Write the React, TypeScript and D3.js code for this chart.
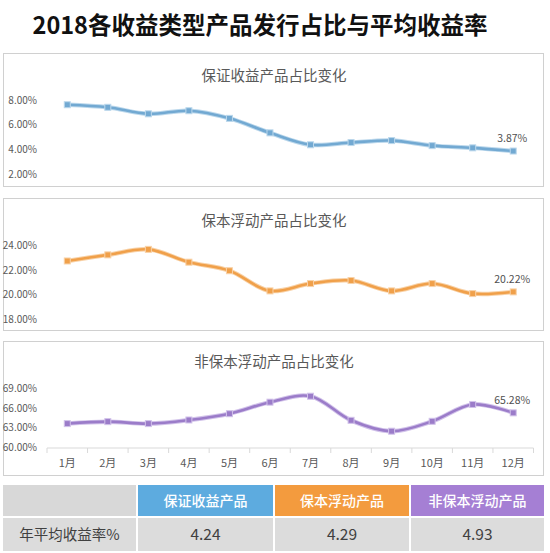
import React from "react";
import * as d3 from "d3";

const months = ["1月","2月","3月","4月","5月","6月","7月","8月","9月","10月","11月","12月"];
const guaranteed = [7.64, 7.43, 6.9, 7.15, 6.53, 5.35, 4.38, 4.56, 4.72, 4.31, 4.13, 3.87];
const principalFloat = [22.75, 23.25, 23.7, 22.65, 21.95, 20.3, 20.9, 21.15, 20.3, 20.9, 20.08, 20.22];
const nonPrincipalFloat = [63.65, 63.95, 63.65, 64.2, 65.15, 66.9, 67.8, 64.15, 62.5, 64.0, 66.55, 65.28];
const ticks1 = [2, 4, 6, 8];
const ticks2 = [18, 20, 22, 24];
const ticks3 = [60, 63, 66, 69];
const panelTitles = ["保证收益产品占比变化", "保本浮动产品占比变化", "非保本浮动产品占比变化"];
const productNames = ["保证收益产品", "保本浮动产品", "非保本浮动产品"];
const avgYield = ["4.24", "4.29", "4.93"];
const rowLabel = "年平均收益率%";
const title = "2018各收益类型产品发行占比与平均收益率";

const FONT = "'Noto Sans CJK SC', 'Noto Sans', sans-serif";

const panels = [
  { data: guaranteed, ticks: ticks1, color: "#72a9d2", halo: "#bcd8ec", box: [53, 186], range: [174, 100.3], titleY: 81 },
  { data: principalFloat, ticks: ticks2, color: "#f0a04a", halo: "#f8d2a8", box: [198, 330], range: [319, 245.7], titleY: 226 },
  { data: nonPrincipalFloat, ticks: ticks3, color: "#9b7cc9", halo: "#d2c3ea", box: [341, 475], range: [447.7, 388.3], titleY: 367 },
];

const headerColors = ["#5dabdf", "#f39b3e", "#a57fd4"];

export default function App() {
  const x = d3.scaleBand<string>().domain(months).range([47, 533.5]);
  const cx = (m: string) => (x(m) as number) + x.bandwidth() / 2;

  return (
    <div style={{ position: "absolute", left: 0, top: 0 }}>
      <svg width={550} height={553} style={{ display: "block", background: "#fff" }} fontFamily={FONT}>
        <rect x={0} y={0} width={550} height={553} fill="#fff" />
        <text x={260} y={34} textAnchor="middle" fontSize={23.5} fontWeight={700} fill="#111">{title}</text>
        {panels.map((p, i) => {
          const y = d3.scaleLinear().domain([p.ticks[0], p.ticks[p.ticks.length - 1]]).range(p.range);
          const line = d3.line<number>()
            .x((_, j) => cx(months[j]))
            .y((d) => y(d))
            .curve(d3.curveCatmullRom.alpha(0.5));
          const path = line(p.data) || "";
          const last = p.data[p.data.length - 1];
          return (
            <g key={i}>
              <rect x={3.5} y={p.box[0] + 0.5} width={540} height={p.box[1] - p.box[0]} fill="#fff" stroke="#d0d0d0" strokeWidth={1} />
              <text x={274} y={p.titleY} textAnchor="middle" fontSize={14.5} fill="#595959">{panelTitles[i]}</text>
              {p.ticks.map((t) => (
                <text key={t} x={37} y={y(t)} dy="0.35em" textAnchor="end" fontSize={10} fill="#595959">{t.toFixed(2) + "%"}</text>
              ))}
              <path d={path} fill="none" stroke={p.halo} strokeWidth={4.5} strokeLinejoin="round" />
              <path d={path} fill="none" stroke={p.color} strokeWidth={2.6} strokeLinejoin="round" />
              {p.data.map((v, j) => (
                <rect key={j} x={cx(months[j]) - 3} y={y(v) - 3} width={6} height={6} fill={p.color} stroke={p.halo} strokeWidth={1} />
              ))}
              <text x={cx(months[11]) - 1} y={y(last) - 13} dy="0.35em" textAnchor="middle" fontSize={10.5} fill="#505050">{last.toFixed(2) + "%"}</text>
              {i === 2 && (
                <g>
                  <line x1={47} x2={533.5} y1={448} y2={448} stroke="#d9d9d9" strokeWidth={1} />
                  {d3.range(months.length + 1).map((k) => {
                    const xx = 47 + k * x.step();
                    return <line key={k} x1={xx} x2={xx} y1={448} y2={453} stroke="#d9d9d9" strokeWidth={1} />;
                  })}
                  {months.map((m) => (
                    <text key={m} x={cx(m)} y={463} dy="0.35em" textAnchor="middle" fontSize={11} fill="#595959">{m}</text>
                  ))}
                </g>
              )}
            </g>
          );
        })}
        {[0, 1, 2, 3].map((c) => {
          const xs = [3, 138, 275, 411, 546];
          const x0 = xs[c];
          const w = xs[c + 1] - xs[c] - 2;
          return (
            <g key={c}>
              <rect x={x0} y={485} width={w} height={31} fill={c === 0 ? "#d8d8d8" : headerColors[c - 1]} />
              <rect x={x0} y={518} width={w} height={33} fill="#dcdcdc" />
              {c > 0 && (
                <text x={x0 + w / 2} y={501.5} dy="0.35em" textAnchor="middle" fontSize={14} fontWeight={500} fill="#fff">{productNames[c - 1]}</text>
              )}
              <text x={x0 + w / 2} y={535} dy="0.35em" textAnchor="middle" fontSize={c === 0 ? 14.5 : 15.5} fill="#404040">{c === 0 ? rowLabel : avgYield[c - 1]}</text>
            </g>
          );
        })}
      </svg>
    </div>
  );
}
